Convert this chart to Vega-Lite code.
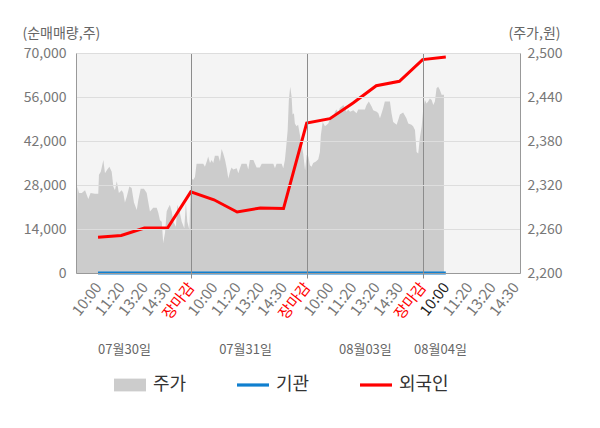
{
  "$schema": "https://vega.github.io/schema/vega-lite/v6.json",
  "description": "순매매량(기관, 외국인)과 주가 추이",
  "width": 444,
  "height": 220,
  "autosize": "none",
  "padding": {"left": 76, "top": 53, "right": 80, "bottom": 155},
  "background": "white",
  "view": {"fill": "#f4f4f4", "stroke": null},
  "config": {"font": "Noto Sans CJK KR"},
  "datasets": {
    "price": [
      {"t": 0.05, "p": 2271}, {"t": 0.09, "p": 2271}, {"t": 0.11, "p": 2318}, {"t": 0.18, "p": 2309},
      {"t": 0.30, "p": 2309}, {"t": 0.44, "p": 2313}, {"t": 0.58, "p": 2301}, {"t": 0.68, "p": 2309},
      {"t": 0.87, "p": 2308}, {"t": 1.01, "p": 2308}, {"t": 1.04, "p": 2334}, {"t": 1.12, "p": 2338},
      {"t": 1.23, "p": 2354}, {"t": 1.30, "p": 2336}, {"t": 1.40, "p": 2341}, {"t": 1.49, "p": 2345},
      {"t": 1.59, "p": 2338}, {"t": 1.66, "p": 2318}, {"t": 1.73, "p": 2313}, {"t": 1.81, "p": 2325},
      {"t": 1.90, "p": 2309}, {"t": 2.02, "p": 2313}, {"t": 2.09, "p": 2309}, {"t": 2.16, "p": 2296},
      {"t": 2.24, "p": 2304}, {"t": 2.35, "p": 2318}, {"t": 2.45, "p": 2316}, {"t": 2.55, "p": 2296},
      {"t": 2.67, "p": 2286}, {"t": 2.74, "p": 2300}, {"t": 2.84, "p": 2315}, {"t": 2.98, "p": 2315},
      {"t": 3.10, "p": 2309}, {"t": 3.17, "p": 2296}, {"t": 3.24, "p": 2284}, {"t": 3.38, "p": 2289},
      {"t": 3.53, "p": 2289}, {"t": 3.60, "p": 2282}, {"t": 3.67, "p": 2272}, {"t": 3.75, "p": 2270},
      {"t": 3.81, "p": 2241}, {"t": 3.89, "p": 2255}, {"t": 3.96, "p": 2284}, {"t": 4.03, "p": 2289},
      {"t": 4.10, "p": 2293}, {"t": 4.18, "p": 2284}, {"t": 4.25, "p": 2270}, {"t": 4.36, "p": 2263},
      {"t": 4.42, "p": 2293}, {"t": 4.53, "p": 2282}, {"t": 4.61, "p": 2270}, {"t": 4.72, "p": 2261},
      {"t": 4.79, "p": 2296}, {"t": 4.85, "p": 2270}, {"t": 4.94, "p": 2259},
      {"t": 5.01, "p": 2329}, {"t": 5.11, "p": 2327}, {"t": 5.18, "p": 2331}, {"t": 5.25, "p": 2349},
      {"t": 5.54, "p": 2349}, {"t": 5.61, "p": 2345}, {"t": 5.69, "p": 2352}, {"t": 5.75, "p": 2359},
      {"t": 5.83, "p": 2350}, {"t": 5.90, "p": 2354}, {"t": 5.97, "p": 2350}, {"t": 6.04, "p": 2360},
      {"t": 6.19, "p": 2360}, {"t": 6.26, "p": 2352}, {"t": 6.33, "p": 2369}, {"t": 6.40, "p": 2363},
      {"t": 6.48, "p": 2354}, {"t": 6.55, "p": 2343}, {"t": 6.62, "p": 2329}, {"t": 6.69, "p": 2338},
      {"t": 6.76, "p": 2344}, {"t": 6.83, "p": 2341}, {"t": 6.98, "p": 2343}, {"t": 7.05, "p": 2336},
      {"t": 7.12, "p": 2343}, {"t": 7.19, "p": 2349}, {"t": 7.41, "p": 2349}, {"t": 7.48, "p": 2341},
      {"t": 7.55, "p": 2354}, {"t": 7.70, "p": 2354}, {"t": 7.77, "p": 2349}, {"t": 7.84, "p": 2344},
      {"t": 7.98, "p": 2344}, {"t": 8.06, "p": 2349}, {"t": 8.56, "p": 2349}, {"t": 8.63, "p": 2343},
      {"t": 8.70, "p": 2349}, {"t": 8.92, "p": 2349}, {"t": 8.99, "p": 2343}, {"t": 9.06, "p": 2354},
      {"t": 9.11, "p": 2370}, {"t": 9.18, "p": 2395}, {"t": 9.23, "p": 2436}, {"t": 9.29, "p": 2454},
      {"t": 9.35, "p": 2440}, {"t": 9.39, "p": 2416}, {"t": 9.45, "p": 2418}, {"t": 9.49, "p": 2404},
      {"t": 9.56, "p": 2400}, {"t": 9.63, "p": 2402}, {"t": 9.71, "p": 2388}, {"t": 9.78, "p": 2375},
      {"t": 9.85, "p": 2363}, {"t": 9.93, "p": 2340},
      {"t": 10.00, "p": 2361}, {"t": 10.07, "p": 2359}, {"t": 10.14, "p": 2347}, {"t": 10.21, "p": 2345},
      {"t": 10.28, "p": 2350}, {"t": 10.40, "p": 2352}, {"t": 10.50, "p": 2355}, {"t": 10.57, "p": 2365},
      {"t": 10.61, "p": 2388}, {"t": 10.69, "p": 2406}, {"t": 10.79, "p": 2400}, {"t": 10.93, "p": 2404},
      {"t": 11.03, "p": 2411}, {"t": 11.15, "p": 2413}, {"t": 11.22, "p": 2420}, {"t": 11.29, "p": 2423},
      {"t": 11.36, "p": 2419}, {"t": 11.43, "p": 2425}, {"t": 11.51, "p": 2427}, {"t": 11.58, "p": 2429},
      {"t": 11.65, "p": 2425}, {"t": 11.72, "p": 2420}, {"t": 11.79, "p": 2423}, {"t": 11.87, "p": 2420},
      {"t": 12.01, "p": 2422}, {"t": 12.15, "p": 2418}, {"t": 12.22, "p": 2423}, {"t": 12.51, "p": 2423},
      {"t": 12.58, "p": 2429}, {"t": 12.68, "p": 2434}, {"t": 12.80, "p": 2427}, {"t": 12.87, "p": 2422},
      {"t": 13.02, "p": 2420}, {"t": 13.09, "p": 2418}, {"t": 13.16, "p": 2411}, {"t": 13.23, "p": 2418},
      {"t": 13.30, "p": 2425}, {"t": 13.37, "p": 2434}, {"t": 13.59, "p": 2434}, {"t": 13.66, "p": 2418},
      {"t": 13.73, "p": 2406}, {"t": 13.88, "p": 2402}, {"t": 13.95, "p": 2409}, {"t": 14.02, "p": 2416},
      {"t": 14.16, "p": 2419}, {"t": 14.30, "p": 2411}, {"t": 14.38, "p": 2404}, {"t": 14.52, "p": 2402},
      {"t": 14.59, "p": 2400}, {"t": 14.67, "p": 2395}, {"t": 14.74, "p": 2365}, {"t": 14.81, "p": 2363},
      {"t": 14.88, "p": 2384}, {"t": 14.96, "p": 2400},
      {"t": 15.03, "p": 2425}, {"t": 15.10, "p": 2436}, {"t": 15.17, "p": 2431}, {"t": 15.24, "p": 2434},
      {"t": 15.31, "p": 2438}, {"t": 15.39, "p": 2436}, {"t": 15.46, "p": 2429}, {"t": 15.53, "p": 2434},
      {"t": 15.60, "p": 2452}, {"t": 15.67, "p": 2454}, {"t": 15.74, "p": 2450}, {"t": 15.82, "p": 2443},
      {"t": 15.92, "p": 2443}
    ],
    "flow": [
      {"t": 1, "s": "기관", "v": 0}, {"t": 2, "s": "기관", "v": 0}, {"t": 3, "s": "기관", "v": 0},
      {"t": 4, "s": "기관", "v": 0}, {"t": 5, "s": "기관", "v": 0}, {"t": 6, "s": "기관", "v": 0},
      {"t": 7, "s": "기관", "v": 0}, {"t": 8, "s": "기관", "v": 0}, {"t": 9, "s": "기관", "v": 0},
      {"t": 10, "s": "기관", "v": 0}, {"t": 11, "s": "기관", "v": 0}, {"t": 12, "s": "기관", "v": 0},
      {"t": 13, "s": "기관", "v": 0}, {"t": 14, "s": "기관", "v": 0}, {"t": 15, "s": "기관", "v": 0},
      {"t": 16, "s": "기관", "v": 0},
      {"t": 1, "s": "외국인", "v": 11400}, {"t": 2, "s": "외국인", "v": 11950},
      {"t": 3, "s": "외국인", "v": 14300}, {"t": 4, "s": "외국인", "v": 14300},
      {"t": 5, "s": "외국인", "v": 25800}, {"t": 6, "s": "외국인", "v": 23300},
      {"t": 7, "s": "외국인", "v": 19400}, {"t": 8, "s": "외국인", "v": 20700},
      {"t": 9, "s": "외국인", "v": 20500}, {"t": 10, "s": "외국인", "v": 47700},
      {"t": 11, "s": "외국인", "v": 49100}, {"t": 12, "s": "외국인", "v": 54100},
      {"t": 13, "s": "외국인", "v": 59600}, {"t": 14, "s": "외국인", "v": 61000},
      {"t": 15, "s": "외국인", "v": 67900}, {"t": 16, "s": "외국인", "v": 68700}
    ]
  },
  "resolve": {
    "scale": {"y": "independent"},
    "axis": {"x": "independent", "y": "independent"}
  },
  "layer": [
    {
      "data": {"name": "price"},
      "mark": {"type": "area", "interpolate": "linear"},
      "encoding": {
        "x": {
          "field": "t",
          "type": "quantitative",
          "scale": {"domain": [0.05, 19.2], "nice": false, "zero": false},
          "axis": {
            "orient": "bottom",
            "title": null,
            "values": [1, 2, 3, 4, 5, 6, 7, 8, 9, 10, 11, 12, 13, 14, 15, 16, 17, 18, 19],
            "labelExpr": "['장마감','10:00','11:20','13:20','14:30'][datum.value % 5]",
            "labelAngle": -52,
            "labelAlign": "right",
            "labelBaseline": "middle",
            "labelPadding": 6,
            "labelFontSize": 15,
            "labelColor": {
              "condition": [
                {"test": "datum.value % 5 === 0", "value": "#ff0000"},
                {"test": "datum.value === 16", "value": "#222222"}
              ],
              "value": "#777777"
            },
            "labelOverlap": false,
            "labelFlush": false,
            "labelBound": false,
            "grid": true,
            "gridWidth": 1,
            "gridColor": {
              "condition": {"test": "datum.value % 5 === 0", "value": "#8c8c8c"},
              "value": "transparent"
            },
            "ticks": true,
            "tickSize": 5,
            "tickColor": {
              "condition": {"test": "datum.value % 5 === 0", "value": "#8c8c8c"},
              "value": "transparent"
            },
            "domain": true,
            "domainColor": "#999999",
            "zindex": 1
          }
        },
        "y": {
          "field": "p",
          "type": "quantitative",
          "scale": {"domain": [2200, 2500], "nice": false, "zero": false},
          "axis": {
            "orient": "right",
            "values": [2200, 2260, 2320, 2380, 2440, 2500],
            "format": ",d",
            "grid": false,
            "ticks": false,
            "domain": true,
            "domainColor": "#999999",
            "labelPadding": 7,
            "labelFontSize": 14,
            "labelColor": "#777777",
            "title": "(주가,원)",
            "titleAngle": 0,
            "titleAlign": "left",
            "titleBaseline": "middle",
            "titleX": -12,
            "titleY": -20,
            "titleFontSize": 14,
            "titleFontWeight": "normal",
            "titleColor": "#666666",
            "zindex": 1
          }
        },
        "y2": {"datum": 2200},
        "color": {
          "datum": "주가",
          "type": "nominal",
          "scale": {"domain": ["주가", "기관", "외국인"], "range": ["#cccccc", "#0f7fcf", "#ff0000"]}
        }
      }
    },
    {
      "data": {"name": "flow"},
      "mark": {"type": "line", "strokeWidth": 3},
      "encoding": {
        "x": {
          "field": "t",
          "type": "quantitative",
          "scale": {"domain": [0.05, 19.2], "nice": false, "zero": false},
          "axis": {
            "orient": "bottom",
            "offset": 68,
            "title": null,
            "values": [2.12, 7.34, 12.51, 15.75],
            "labelExpr": "datum.value < 5 ? '07월30일' : datum.value < 10 ? '07월31일' : datum.value < 15 ? '08월03일' : '08월04일'",
            "labelAngle": 0,
            "labelAlign": "center",
            "labelBaseline": "top",
            "labelPadding": 2,
            "labelFontSize": 13,
            "labelColor": "#666666",
            "labelOverlap": false,
            "labelFlush": false,
            "labelBound": false,
            "grid": false,
            "ticks": false,
            "domain": false
          }
        },
        "y": {
          "field": "v",
          "type": "quantitative",
          "scale": {"domain": [0, 70000], "nice": false},
          "axis": {
            "orient": "left",
            "values": [0, 14000, 28000, 42000, 56000, 70000],
            "format": ",d",
            "grid": true,
            "gridColor": "#dddddd",
            "gridWidth": 1,
            "ticks": false,
            "domain": true,
            "domainColor": "#999999",
            "labelPadding": 10,
            "labelFontSize": 14,
            "labelColor": "#777777",
            "title": "(순매매량,주)",
            "titleAngle": 0,
            "titleAlign": "left",
            "titleBaseline": "middle",
            "titleX": -54,
            "titleY": -20,
            "titleFontSize": 14,
            "titleFontWeight": "normal",
            "titleColor": "#666666",
            "zindex": 1
          }
        },
        "color": {
          "field": "s",
          "type": "nominal",
          "scale": {"domain": ["주가", "기관", "외국인"], "range": ["#cccccc", "#0f7fcf", "#ff0000"]},
          "legend": {
            "title": null,
            "orient": "none",
            "direction": "horizontal",
            "legendX": 38,
            "legendY": 316,
            "padding": 0,
            "symbolSize": 1024,
            "labelOffset": 7,
            "labelFontSize": 18,
            "labelColor": "#333333",
            "columnPadding": 50,
            "encode": {
              "symbols": {
                "update": {
                  "shape": {"signal": "datum.value === '주가' ? 'M-1,-0.4H1V0.4H-1Z' : 'M-1,-0.1H1V0.1H-1Z'"},
                  "fill": {"signal": "scale('color', datum.value)"},
                  "fillOpacity": {"value": 1},
                  "strokeWidth": {"value": 0}
                }
              }
            }
          }
        }
      }
    }
  ]
}
